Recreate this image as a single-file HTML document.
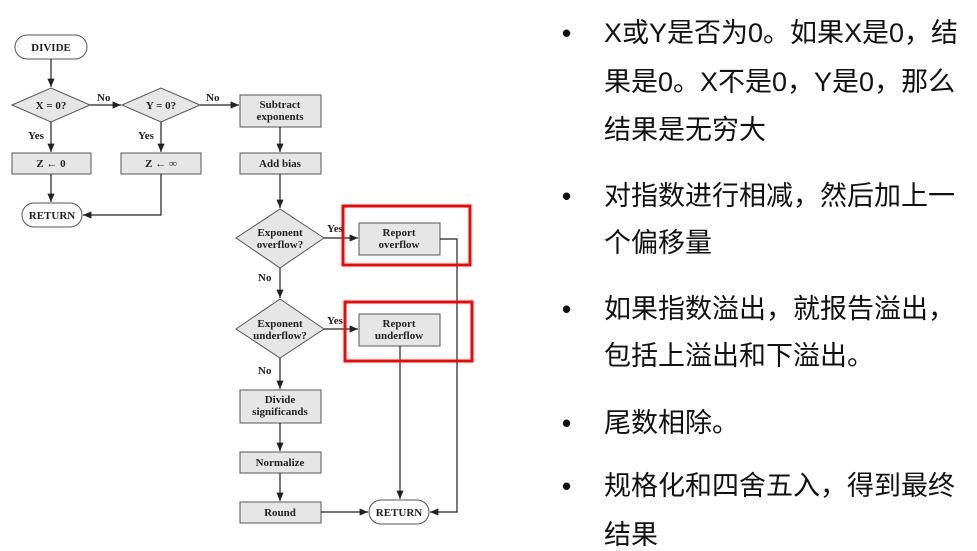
<!DOCTYPE html>
<html><head><meta charset="utf-8"><style>
body{margin:0;width:977px;height:548px;background:#fff;position:relative;overflow:hidden}
.t{position:absolute;left:604px;font:27px "Liberation Sans","Noto Sans CJK SC",sans-serif;color:#111;line-height:32px;height:32px;white-space:nowrap}
.b{position:absolute;left:562px;font:bold 26px "Liberation Sans",sans-serif;line-height:32px;color:#111}
svg text{font-family:"Liberation Serif",serif;font-weight:bold;font-size:11px;fill:#222}
</style></head><body>
<svg width="977" height="548" style="position:absolute;left:0;top:0">
<defs><marker id="a" markerWidth="8" markerHeight="8" refX="7" refY="3" orient="auto"><path d="M0,0L7,3L0,6z" fill="#222"/></marker></defs>
<g stroke="#555" stroke-width="1" fill="#e6e6e6">
<rect x="15" y="35" width="72" height="24" rx="12" fill="#fff"/>
<polygon points="12,105 51,88 90,105 51,122"/>
<polygon points="122,105 161,88 200,105 161,122"/>
<rect x="240" y="95" width="81" height="32"/>
<rect x="12" y="153" width="79" height="21"/>
<rect x="121" y="153" width="80" height="21"/>
<rect x="240" y="153" width="81" height="21"/>
<rect x="22" y="203" width="60" height="24" rx="12" fill="#fff"/>
<polygon points="236,238 280,209 324,238 280,268"/>
<rect x="359" y="223" width="81" height="32"/>
<polygon points="236,329 280,299 324,329 280,358"/>
<rect x="359" y="314" width="81" height="32"/>
<rect x="240" y="390" width="81" height="33"/>
<rect x="240" y="452" width="81" height="21"/>
<rect x="240" y="502" width="81" height="21"/>
<rect x="369" y="500" width="60" height="24" rx="12" fill="#fff"/>
</g>
<g stroke="#222" stroke-width="1.2" fill="none" marker-end="url(#a)">
<path d="M51,59V87"/><path d="M90,105H121"/><path d="M200,105H239"/>
<path d="M51,122V152"/><path d="M161,122V152"/><path d="M280,127V152"/>
<path d="M51,174V202"/><path d="M161,174V215H83"/>
<path d="M280,174V208"/><path d="M324,238H358"/><path d="M280,268V298"/>
<path d="M324,329H358"/><path d="M280,358V389"/><path d="M280,423V451"/>
<path d="M280,473V501"/><path d="M321,512H368"/>
<path d="M400,346V499"/><path d="M440,239H457V512H430"/>
</g>
<g fill="none" stroke="#f00" stroke-width="3">
<rect x="343" y="206" width="127" height="59"/>
<rect x="345" y="302" width="127" height="59"/>
</g>
<g text-anchor="middle">
<text x="51" y="51">DIVIDE</text>
<text x="51" y="109">X = 0?</text><text x="161" y="109">Y = 0?</text>
<text x="280" y="108">Subtract</text><text x="280" y="120">exponents</text>
<text x="51" y="167">Z ← 0</text><text x="161" y="167">Z ← ∞</text>
<text x="280" y="167">Add bias</text>
<text x="52" y="219">RETURN</text>
<text x="280" y="236">Exponent</text><text x="280" y="248">overflow?</text>
<text x="399" y="236">Report</text><text x="399" y="248">overflow</text>
<text x="280" y="327">Exponent</text><text x="280" y="339">underflow?</text>
<text x="399" y="327">Report</text><text x="399" y="339">underflow</text>
<text x="280" y="403">Divide</text><text x="280" y="415">significands</text>
<text x="280" y="466">Normalize</text><text x="280" y="516">Round</text>
<text x="399" y="516">RETURN</text>
</g>
<text x="97" y="101">No</text><text x="206" y="101">No</text>
<text x="28" y="139">Yes</text><text x="138" y="139">Yes</text>
<text x="327" y="232">Yes</text><text x="327" y="324">Yes</text>
<text x="258" y="281">No</text><text x="258" y="374">No</text>
</svg>
<div class="b" style="top:17px">•</div>
<div class="t" style="top:17px">X或Y是否为0。如果X是0，结</div>
<div class="t" style="top:66px">果是0。X不是0，Y是0，那么</div>
<div class="t" style="top:114px">结果是无穷大</div>
<div class="b" style="top:180px">•</div>
<div class="t" style="top:180px">对指数进行相减，然后加上一</div>
<div class="t" style="top:227px">个偏移量</div>
<div class="b" style="top:293px">•</div>
<div class="t" style="top:293px">如果指数溢出，就报告溢出，</div>
<div class="t" style="top:340px">包括上溢出和下溢出。</div>
<div class="b" style="top:407px">•</div>
<div class="t" style="top:407px">尾数相除。</div>
<div class="b" style="top:470px">•</div>
<div class="t" style="top:470px">规格化和四舍五入，得到最终</div>
<div class="t" style="top:519px">结果</div>
</body></html>
